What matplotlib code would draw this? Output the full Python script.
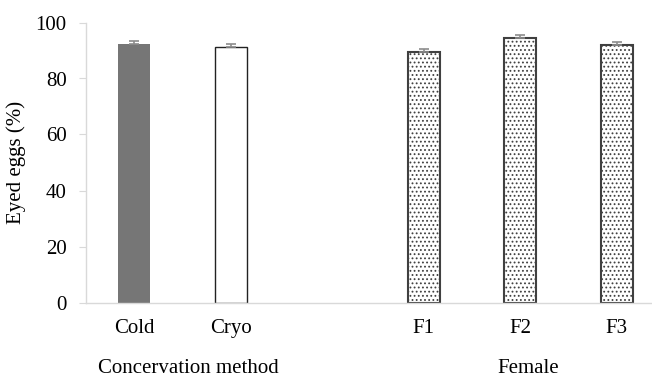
import numpy as np
import matplotlib
matplotlib.use('Agg')
import matplotlib.pyplot as plt
import matplotlib.transforms as mtransforms

plt.rcParams['font.family'] = ['Liberation Serif', 'DejaVu Serif']
plt.rcParams['hatch.linewidth'] = 0.8

# data
labels = ['Cold', 'Cryo', '', 'F1', 'F2', 'F3']
values = [92.3, 91.4, np.nan, 89.6, 94.6, 92.0]
errors = [1.2, 1.1, np.nan, 1.0, 0.9, 0.9]
groups = ['Concervation method', 'Female']
group_pos = [0.56, 4.08]

fig = plt.figure(figsize=(6.52, 3.76), dpi=100)
ax = fig.add_axes([86/652, 73.5/376, 566/652, 280/376])

x = np.arange(len(labels))
fills = ['#767676', 'white', 'white', 'white', 'white', 'white']
edges = ['#767676', '#222222', 'none', '#404040', '#404040', '#404040']
hatches = [None, None, None, '....', '....', '....']
lws = [0, 1.0, 0, 1.5, 1.5, 1.5]

for i in range(len(labels)):
    if np.isnan(values[i]):
        continue
    ax.bar(x[i], values[i], width=0.33, color=fills[i], edgecolor=edges[i],
           linewidth=lws[i], hatch=hatches[i], zorder=2)
    ax.errorbar(x[i], values[i], yerr=[[0], [errors[i]]], fmt='none',
                ecolor='#8c8c8c', elinewidth=1.2, capsize=3.5, capthick=1.2, zorder=3)

ax.set_xlim(-0.5, -0.5 + 566/96.5)
ax.set_ylim(0, 100)
ax.set_yticks(np.arange(0, 101, 20))
ax.set_xticks(x)
ax.set_xticklabels(labels, fontsize=15)
ax.tick_params(axis='x', length=0, pad=12)
ax.tick_params(axis='y', length=5, color='#d9d9d9', labelsize=15, pad=9)

for s in ['top', 'right']:
    ax.spines[s].set_visible(False)
for s in ['left', 'bottom']:
    ax.spines[s].set_color('#d9d9d9')
    ax.spines[s].set_linewidth(1.0)

ax.set_ylabel('Eyed eggs (%)', fontsize=15, labelpad=7)

trans = mtransforms.blended_transform_factory(ax.transData, ax.transAxes)
for g, p in zip(groups, group_pos):
    ax.text(p, -0.234, g, transform=trans, ha='center', va='center', fontsize=15)

fig.savefig('out.png', dpi=100)
